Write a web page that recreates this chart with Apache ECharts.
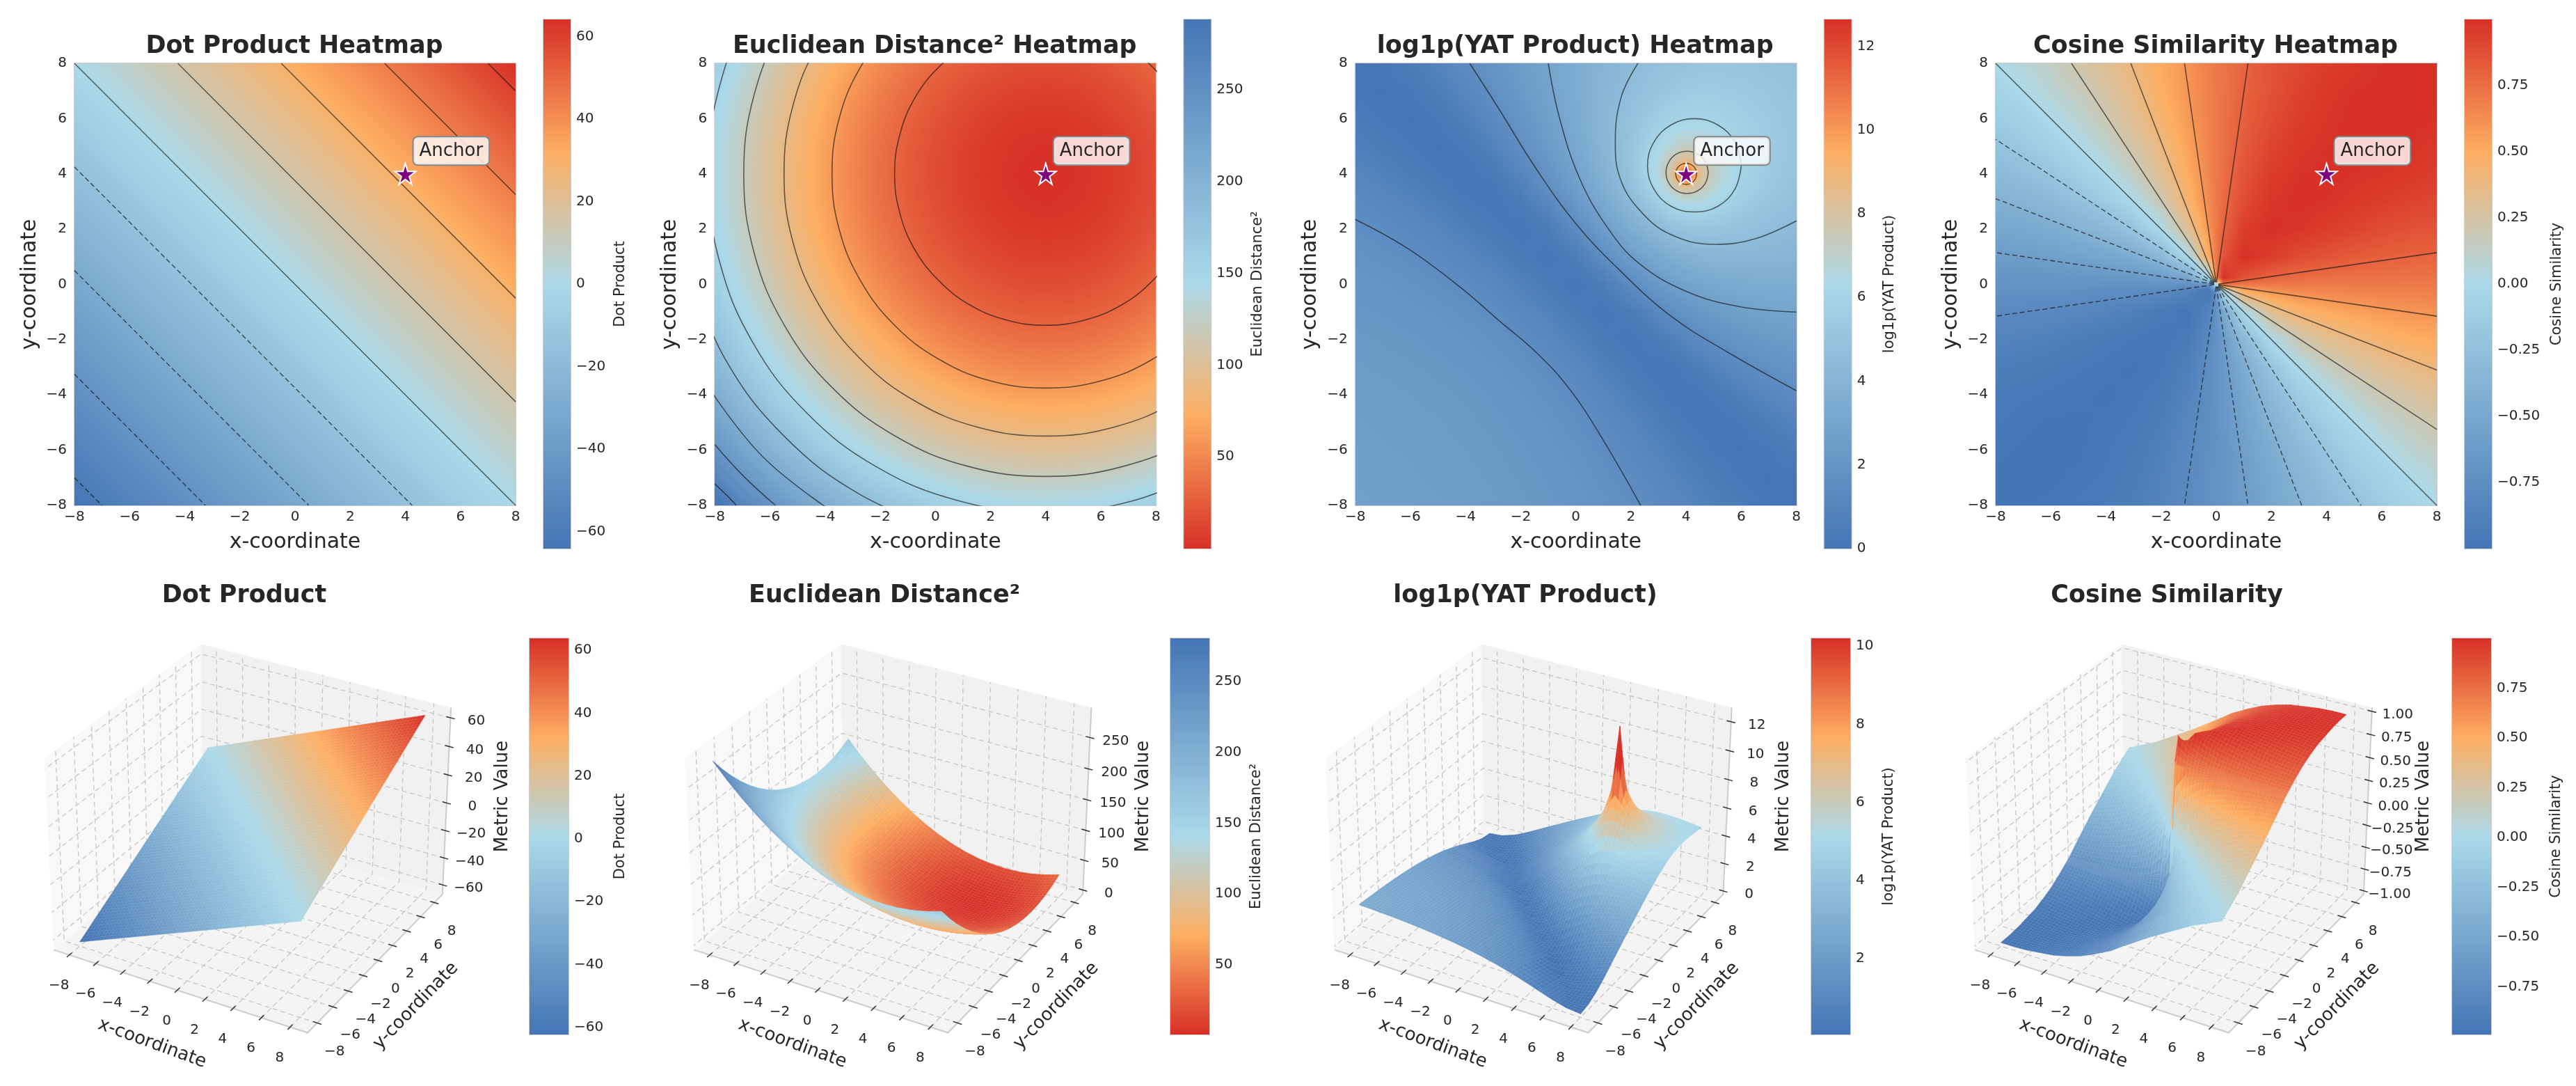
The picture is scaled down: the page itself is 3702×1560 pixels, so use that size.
<!DOCTYPE html>
<html>
<head>
<meta charset="utf-8">
<script src="https://cdn.jsdelivr.net/npm/echarts@6/dist/echarts.min.js"></script>
<style>html,body{margin:0;background:#fff}#main{width:3702px;height:1560px}</style>
</head>
<body>
<div id="main"></div>
<script>
// values, rows go from y=8 down to y=-8
const dotGridX = [-8,-6,-4,-2,0,2,4,6,8];
const dotGridY = [8,6,4,2,0,-2,-4,-6,-8];
const dotValues = [
[0,8,16,24,32,40,48,56,64],
[-8,0,8,16,24,32,40,48,56],
[-16,-8,0,8,16,24,32,40,48],
[-24,-16,-8,0,8,16,24,32,40],
[-32,-24,-16,-8,0,8,16,24,32],
[-40,-32,-24,-16,-8,0,8,16,24],
[-48,-40,-32,-24,-16,-8,0,8,16],
[-56,-48,-40,-32,-24,-16,-8,0,8],
[-64,-56,-48,-40,-32,-24,-16,-8,0]];

const eucGridX = [-8,-7,-6,-5,-4,-3,-2,-1,0,1,2,3,4,5,6,7,8];
const eucGridY = [8,7,6,5,4,3,2,1,0,-1,-2,-3,-4,-5,-6,-7,-8];
const eucValues = [
[160,137,116,97,80,65,52,41,32,25,20,17,16,17,20,25,32],
[153,130,109,90,73,58,45,34,25,18,13,10,9,10,13,18,25],
[148,125,104,85,68,53,40,29,20,13,8,5,4,5,8,13,20],
[145,122,101,82,65,50,37,26,17,10,5,2,1,2,5,10,17],
[144,121,100,81,64,49,36,25,16,9,4,1,0,1,4,9,16],
[145,122,101,82,65,50,37,26,17,10,5,2,1,2,5,10,17],
[148,125,104,85,68,53,40,29,20,13,8,5,4,5,8,13,20],
[153,130,109,90,73,58,45,34,25,18,13,10,9,10,13,18,25],
[160,137,116,97,80,65,52,41,32,25,20,17,16,17,20,25,32],
[169,146,125,106,89,74,61,50,41,34,29,26,25,26,29,34,41],
[180,157,136,117,100,85,72,61,52,45,40,37,36,37,40,45,52],
[193,170,149,130,113,98,85,74,65,58,53,50,49,50,53,58,65],
[208,185,164,145,128,113,100,89,80,73,68,65,64,65,68,73,80],
[225,202,181,162,145,130,117,106,97,90,85,82,81,82,85,90,97],
[244,221,200,181,164,149,136,125,116,109,104,101,100,101,104,109,116],
[265,242,221,202,185,170,157,146,137,130,125,122,121,122,125,130,137],
[288,265,244,225,208,193,180,169,160,153,148,145,144,145,148,153,160]];

// finer samples around the anchor spike
const yatGridX = [-8,-7,-6,-5,-4,-3,-2,-1,0,1,2,3,3.5,4,4.5,5,6,7,8];
const yatGridY = [8,7,6,5,4.5,4,3.5,3,2,1,0,-1,-2,-3,-4,-5,-6,-7,-8];
const yatValues = [
[0,.11,.44,.91,1.44,1.97,2.49,3,3.5,3.97,4.39,4.74,4.88,4.98,5.04,5.08,5.06,4.98,4.86],
[.1,0,.14,.54,1.09,1.69,2.29,2.89,3.48,4.06,4.61,5.08,5.26,5.38,5.44,5.44,5.34,5.17,4.98],
[.36,.12,0,.17,.66,1.31,2,2.69,3.39,4.12,4.86,5.56,5.83,5.99,6.03,5.96,5.67,5.34,5.06],
[.69,.42,.15,0,.22,.82,1.59,2.38,3.2,4.07,5.06,6.24,6.83,7.17,7.05,6.69,5.96,5.44,5.08],
[.86,.6,.31,.05,.06,.55,1.32,2.17,3.04,3.98,5.08,6.58,7.62,8.44,7.86,7.05,6.03,5.44,5.04],
[1.02,.78,.49,.18,0,.28,1.02,1.91,2.83,3.82,4.98,6.67,8.19,12.64,8.44,7.17,5.99,5.38,4.98],
[1.18,.96,.69,.37,.06,.08,.69,1.6,2.57,3.58,4.74,6.29,7.36,8.19,7.62,6.83,5.83,5.26,4.88],
[1.32,1.13,.89,.58,.22,0,.36,1.24,2.25,3.28,4.39,5.67,6.29,6.67,6.58,6.24,5.56,5.08,4.74],
[1.59,1.44,1.24,.99,.66,.26,0,.44,1.44,2.49,3.5,4.39,4.74,4.98,5.08,5.06,4.86,4.61,4.39],
[1.81,1.69,1.54,1.35,1.09,.74,.31,0,.49,1.52,2.49,3.28,3.58,3.82,3.98,4.07,4.12,4.06,3.97],
[2,1.91,1.79,1.63,1.44,1.16,.8,.33,0,.49,1.44,2.25,2.57,2.83,3.04,3.2,3.39,3.48,3.5],
[2.16,2.08,1.98,1.86,1.7,1.5,1.21,.82,.33,0,.44,1.24,1.6,1.91,2.17,2.38,2.69,2.89,3],
[2.29,2.22,2.14,2.04,1.91,1.74,1.52,1.21,.8,.31,0,.36,.69,1.02,1.32,1.59,2,2.29,2.49],
[2.4,2.34,2.27,2.18,2.07,1.93,1.74,1.5,1.16,.74,.26,0,.08,.28,.55,.82,1.31,1.69,1.97],
[2.49,2.44,2.38,2.3,2.2,2.07,1.91,1.7,1.44,1.09,.66,.22,.06,0,.06,.22,.66,1.09,1.44],
[2.57,2.52,2.46,2.39,2.3,2.18,2.04,1.86,1.63,1.35,.99,.58,.37,.18,.05,0,.17,.54,.91],
[2.63,2.58,2.53,2.46,2.38,2.27,2.14,1.98,1.79,1.54,1.24,.89,.69,.49,.31,.15,0,.14,.44],
[2.68,2.64,2.58,2.52,2.44,2.34,2.22,2.08,1.91,1.69,1.44,1.13,.96,.78,.6,.42,.12,0,.11],
[2.72,2.68,2.63,2.57,2.49,2.4,2.29,2.16,2,1.81,1.59,1.32,1.18,1.02,.86,.69,.36,.1,0]];

// finer samples around the origin
const cosGridX = [-8,-7,-6,-5,-4,-3,-2,-1,-.25,0,.25,1,2,3,4,5,6,7,8];
const cosGridY = [8,7,6,5,4,3,2,1,.25,0,-.25,-1,-2,-3,-4,-5,-6,-7,-8];
const cosValues = [
[0,.07,.14,.23,.32,.41,.51,.61,.69,.71,.73,.79,.86,.91,.95,.97,.99,1,1],
[-.07,0,.08,.16,.26,.37,.49,.6,.68,.71,.73,.8,.87,.93,.97,.99,1,1,1],
[-.14,-.08,0,.09,.2,.32,.45,.58,.68,.71,.74,.81,.89,.95,.98,1,1,1,.99],
[-.23,-.16,-.09,0,.11,.24,.39,.55,.67,.71,.74,.83,.92,.97,.99,1,1,.99,.97],
[-.32,-.26,-.2,-.11,0,.14,.32,.51,.66,.71,.75,.86,.95,.99,1,.99,.98,.97,.95],
[-.41,-.37,-.32,-.24,-.14,0,.2,.45,.65,.71,.76,.89,.98,1,.99,.97,.95,.93,.91],
[-.51,-.49,-.45,-.39,-.32,-.2,0,.32,.61,.71,.79,.95,1,.98,.95,.92,.89,.87,.86],
[-.61,-.6,-.58,-.55,-.51,-.45,-.32,0,.51,.71,.86,1,.95,.89,.86,.83,.81,.8,.79],
[-.69,-.68,-.68,-.67,-.66,-.65,-.61,-.51,0,.71,1,.86,.79,.76,.75,.74,.74,.73,.73],
[-.71,-.71,-.71,-.71,-.71,-.71,-.71,-.71,-.71,0,.71,.71,.71,.71,.71,.71,.71,.71,.71],
[-.73,-.73,-.74,-.74,-.75,-.76,-.79,-.86,-1,-.71,0,.51,.61,.65,.66,.67,.68,.68,.69],
[-.79,-.8,-.81,-.83,-.86,-.89,-.95,-1,-.86,-.71,-.51,0,.32,.45,.51,.55,.58,.6,.61],
[-.86,-.87,-.89,-.92,-.95,-.98,-1,-.95,-.79,-.71,-.61,-.32,0,.2,.32,.39,.45,.49,.51],
[-.91,-.93,-.95,-.97,-.99,-1,-.98,-.89,-.76,-.71,-.65,-.45,-.2,0,.14,.24,.32,.37,.41],
[-.95,-.97,-.98,-.99,-1,-.99,-.95,-.86,-.75,-.71,-.66,-.51,-.32,-.14,0,.11,.2,.26,.32],
[-.97,-.99,-1,-1,-.99,-.97,-.92,-.83,-.74,-.71,-.67,-.55,-.39,-.24,-.11,0,.09,.16,.23],
[-.99,-1,-1,-1,-.98,-.95,-.89,-.81,-.74,-.71,-.68,-.58,-.45,-.32,-.2,-.09,0,.08,.14],
[-1,-1,-1,-.99,-.97,-.93,-.87,-.8,-.73,-.71,-.68,-.6,-.49,-.37,-.26,-.16,-.08,0,.07],
[-1,-1,-.99,-.97,-.95,-.91,-.86,-.79,-.73,-.71,-.69,-.61,-.51,-.41,-.32,-.23,-.14,-.07,0]];

// contour lines, in data units
const dotContourSolid = [[[-8,8],[8,-8]],[[-4.25,8],[8,-4.25]],[[-.5,8],[8,-.5]],[[3.25,8],[8,3.25]],[[7,8],[8,7]]];
const dotContourDashed = [[[-8,4.25],[4.25,-8]],[[-8,.5],[.5,-8]],[[-8,-3.25],[-3.25,-8]],[[-8,-7],[-7,-8]]];
const eucContourSolid = [
[[9.48,4],[9.29,5.42],[8.75,6.74],[7.87,7.87],[6.74,8.75],[5.42,9.29],[4,9.48],[2.58,9.29],[1.26,8.75],[.13,7.87],[-.75,6.74],[-1.29,5.42],[-1.48,4],[-1.29,2.58],[-.75,1.26],[.13,.13],[1.26,-.75],[2.58,-1.29],[4,-1.48],[5.42,-1.29],[6.74,-.75],[7.87,.13],[8.75,1.26],[9.29,2.58],[9.48,4]],
[[1.99,11.49],[.125,10.71],[-1.48,9.48],[-2.71,7.875],[-3.49,6.01],[-3.75,4],[-3.49,1.99],[-2.71,.125],[-1.48,-1.48],[.125,-2.71],[1.99,-3.49],[4,-3.75],[6.01,-3.49],[7.875,-2.71],[9.48,-1.48],[10.71,.125]],
[[-.745,12.22],[-2.71,10.71],[-4.22,8.745],[-5.17,6.46],[-5.49,4],[-5.17,1.54],[-4.22,-.745],[-2.71,-2.71],[-.745,-4.22],[1.54,-5.17],[4,-5.49],[6.46,-5.17],[8.745,-4.22],[10.71,-2.71]],
[[-1.475,13.48],[-3.74,11.74],[-5.48,9.475],[-6.58,6.84],[-6.95,4],[-6.58,1.16],[-5.48,-1.475],[-3.74,-3.74],[-1.475,-5.48],[1.16,-6.58],[4,-6.95],[6.84,-6.58],[9.475,-5.48],[11.74,-3.74]],
[[-2.125,14.61],[-4.66,12.66],[-6.61,10.125],[-7.83,7.17],[-8.25,4],[-7.83,.83],[-6.61,-2.125],[-4.66,-4.66],[-2.125,-6.61],[.83,-7.83],[4,-8.25],[7.17,-7.83],[10.125,-6.61]],
[[-8.96,.52],[-7.62,-2.71],[-5.49,-5.49],[-2.71,-7.62],[.52,-8.96]],
[[-8.55,-3.245],[-6.25,-6.25],[-3.245,-8.55]],
[[-8,-5.8],[-6.95,-6.95],[-5.8,-8]],
[[-8,-7.22],[-7.6,-7.6],[-7.22,-8]]];
const yatContourSolid = [
[[-8,2.35],[-6.1,1.3],[-4.2,-.1],[-2.8,-1.3],[-1.45,-2.45],[-.3,-3.7],[.85,-5.4],[2.35,-8]],
[[-3.85,8],[-2.76,6.3],[-1.45,4.2],[0,2.2],[1.6,.5],[3.45,-1.15],[5.5,-2.45],[8,-3.85]],
[[-1,8],[-.6,6.05],[.13,3.85],[1.15,2.05],[2.3,.75],[4,-.25],[5.9,-.8],[8,-1]],
[[2.25,8],[1.65,6.8],[1.43,5.15],[1.6,3.85],[2.3,2.7],[3.45,1.8],[5.05,1.45],[6.5,1.65],[8,2.3]],
[[6,4.3],[5.77,5.15],[5.15,5.77],[4.3,6],[3.45,5.77],[2.83,5.15],[2.6,4.3],[2.83,3.45],[3.45,2.83],[4.3,2.62],[5.15,2.83],[5.77,3.45],[6,4.3]],
[[4.8,4.05],[4.7,4.43],[4.42,4.72],[4.03,4.82],[3.65,4.72],[3.37,4.43],[3.27,4.05],[3.37,3.67],[3.65,3.39],[4.03,3.29],[4.42,3.39],[4.7,3.67],[4.8,4.05]],
[[4.38,4],[4.33,4.19],[4.19,4.33],[4,4.38],[3.81,4.33],[3.67,4.19],[3.62,4],[3.67,3.81],[3.81,3.67],[4,3.62],[4.19,3.67],[4.33,3.81],[4.38,4]]];
const cosContourSolid = [[[-.08,.08],[-8,8]],[[-.05,.08],[-5.25,8]],[[-.03,.08],[-3.1,8]],[[-.01,.08],[-1.15,8]],[[.01,.08],[1.15,8]],
[[.08,.01],[8,1.15]],[[.08,-.01],[8,-1.15]],[[.08,-.03],[8,-3.1]],[[.08,-.05],[8,-5.25]],[[.08,-.08],[8,-8]]];
const cosContourDashed = [[[-.08,.05],[-8,5.25]],[[-.08,.03],[-8,3.1]],[[-.08,.01],[-8,1.15]],[[-.08,-.01],[-8,-1.15]],
[[-.01,-.08],[-1.15,-8]],[[.01,-.08],[1.15,-8]],[[.03,-.08],[3.1,-8]],[[.05,-.08],[5.25,-8]]];

const anchorPoint = [4,4];
const axisTicks = [-8,-6,-4,-2,0,2,4,6,8];

const titles2d = ['Dot Product Heatmap','Euclidean Distance² Heatmap','log1p(YAT Product) Heatmap','Cosine Similarity Heatmap'];
const titles3d = ['Dot Product','Euclidean Distance²','log1p(YAT Product)','Cosine Similarity'];
const barNames = ['Dot Product','Euclidean Distance²','log1p(YAT Product)','Cosine Similarity'];

const barRange2d = [[-64.1,64.1],[0,288.3],[0,12.64],[-1,1]];
const barRange3d = [[-62.3,63.8],[.8,280.4],[.06,10.2],[-.99,1]];
const barTicks2d = [[-60,-40,-20,0,20,40,60],[50,100,150,200,250],[0,2,4,6,8,10,12],[-.75,-.5,-.25,0,.25,.5,.75]];
const barTicks3d = [[-60,-40,-20,0,20,40,60],[50,100,150,200,250],[2,4,6,8,10],[-.75,-.5,-.25,0,.25,.5,.75]];
const zRange = [[-67,67],[-7.2,297],[-.24,12.96],[-1.04,1.04]];
const zTicks = [[-60,-40,-20,0,20,40,60],[0,50,100,150,200,250],[0,2,4,6,8,10,12],[-1,-.75,-.5,-.25,0,.25,.5,.75,1]];

const panels = [
  {xs:dotGridX,ys:dotGridY,vals:dotValues,solid:dotContourSolid,dashed:dotContourDashed,rev:false,digits:0},
  {xs:eucGridX,ys:eucGridY,vals:eucValues,solid:eucContourSolid,dashed:[],rev:true,digits:0},
  {xs:yatGridX,ys:yatGridY,vals:yatValues,solid:yatContourSolid,dashed:[],rev:false,digits:0},
  {xs:cosGridX,ys:cosGridY,vals:cosValues,solid:cosContourSolid,dashed:cosContourDashed,rev:false,digits:2}
];

const FONT = '"DejaVu Sans"';
const INK = '#262626';
const rampStops = [[0,[69,117,180]],[.5,[171,217,233]],[.75,[253,174,97]],[1,[215,48,39]]];

function ramp(t, rev) {
  t = Math.max(0, Math.min(1, t));
  if (rev) t = 1 - t;
  for (let k = 1; k < rampStops.length; k++) {
    if (t <= rampStops[k][0]) {
      const a = rampStops[k-1], b = rampStops[k];
      const f = (t - a[0]) / (b[0] - a[0]);
      return [0,1,2].map(c => Math.round(a[1][c] + (b[1][c] - a[1][c]) * f));
    }
  }
  return rampStops[3][1];
}
function fmt(v, digits) {
  return (digits ? v.toFixed(digits) : String(v)).replace('-', '−');
}

// one cell of the map, shaded between its four read values (display only, the arrays stay as read)
function cellCanvas(w, h, a, b, c, d, range, rev) {
  const cv = document.createElement('canvas');
  cv.width = w; cv.height = h;
  const ctx = cv.getContext('2d');
  const img = ctx.createImageData(w, h);
  let p = 0;
  for (let y = 0; y < h; y++) {
    const ty = (y + .5) / h;
    for (let x = 0; x < w; x++) {
      const tx = (x + .5) / w;
      const v = (a*(1-tx) + b*tx)*(1-ty) + (c*(1-tx) + d*tx)*ty;
      const col = ramp((v - range[0]) / (range[1] - range[0]), rev);
      img.data[p++] = col[0]; img.data[p++] = col[1]; img.data[p++] = col[2]; img.data[p++] = 255;
    }
  }
  ctx.putImageData(img, 0, 0);
  return cv;
}

// same view as a default 3d axes: elev 30, azim -60
const BOX = 9.2, HA = .595, HC = .446;
function project(pi, x, y, z) {
  const zr = zRange[pi];
  const rx = HA * x / BOX, ry = HA * y / BOX;
  const rz = HC * (2 * (z - zr[0]) / (zr[1] - zr[0]) - 1);
  const D = 10 - (.433*rx - .75*ry + .5*rz);
  const u = (.866*rx + .5*ry) / D, v = (-.25*rx + .433*ry + .866*rz) / D;
  return {p: [361.6 + 920.3*pi + 3513*u, 1191 - 3513*v], depth: D};
}

function buildQuads(pi) {
  const P = panels[pi], out = [], range = barRange3d[pi];
  for (let j = 0; j < P.ys.length - 1; j++) {
    for (let i = 0; i < P.xs.length - 1; i++) {
      const n = Math.max(1, Math.round((P.xs[i+1] - P.xs[i]) / .25));
      const a = P.vals[j][i], b = P.vals[j][i+1], c = P.vals[j+1][i], d = P.vals[j+1][i+1];
      const val = (s, t) => (a*(1-s) + b*s)*(1-t) + (c*(1-s) + d*s)*t;
      const pos = (s, t) => project(pi, P.xs[i] + (P.xs[i+1]-P.xs[i])*s, P.ys[j] + (P.ys[j+1]-P.ys[j])*t, val(s, t));
      for (let m = 0; m < n; m++) for (let k = 0; k < n; k++) {
        const q = [pos(k/n, m/n), pos((k+1)/n, m/n), pos((k+1)/n, (m+1)/n), pos(k/n, (m+1)/n)];
        const mean = (val(k/n,m/n) + val((k+1)/n,m/n) + val((k+1)/n,(m+1)/n) + val(k/n,(m+1)/n)) / 4;
        const col = ramp((mean - range[0]) / (range[1] - range[0]), P.rev);
        // mesh line is the face colour a bit lighter, so squeezed faces stay their colour
        const edge = col.map(c => Math.round(c + (255 - c) * .1));
        out.push({pts: q.map(o => o.p), depth: (q[0].depth+q[1].depth+q[2].depth+q[3].depth)/4,
          fill: 'rgb(' + col.join(',') + ')', edge: 'rgb(' + edge.join(',') + ')'});
      }
    }
  }
  out.sort((p, q) => q.depth - p.depth);
  return out;
}

function backdrop(pi) {
  const zr = zRange[pi], ox = 361.6 + 920.3*pi, kids = [];
  const pr = (x, y, z) => project(pi, x, y, z).p;
  const poly = (pts, fill) => kids.push({type:'polygon', shape:{points:pts}, style:{fill:fill}});
  const line = (pts, c, w, dash) => kids.push({type:'polyline', shape:{points:pts},
    style:{stroke:c, lineWidth:w, lineDash:dash || null, fill:null}});
  const text = (s, x, y, size, rot) => kids.push({type:'text', x:x, y:y, rotation:rot || 0,
    style:{text:s, x:0, y:0, fill:INK, font:size + 'px ' + FONT, textAlign:'center', textVerticalAlign:'middle'}});
  const lo = zr[0], hi = zr[1];
  poly([pr(-BOX,-BOX,lo),pr(BOX,-BOX,lo),pr(BOX,BOX,lo),pr(-BOX,BOX,lo)], '#f4f4f4');
  poly([pr(-BOX,-BOX,lo),pr(-BOX,BOX,lo),pr(-BOX,BOX,hi),pr(-BOX,-BOX,hi)], '#f8f8f8');
  poly([pr(-BOX,BOX,lo),pr(BOX,BOX,lo),pr(BOX,BOX,hi),pr(-BOX,BOX,hi)], '#f1f1f1');
  const GRID = '#c9c9c9', DASH = [7,5];
  axisTicks.forEach(t => {
    line([pr(t,-BOX,lo),pr(t,BOX,lo),pr(t,BOX,hi)], GRID, 1.4, DASH);
    line([pr(BOX,t,lo),pr(-BOX,t,lo),pr(-BOX,t,hi)], GRID, 1.4, DASH);
  });
  zTicks[pi].forEach(t => line([pr(BOX,BOX,t),pr(-BOX,BOX,t),pr(-BOX,-BOX,t)], GRID, 1.4, DASH));
  line([pr(-BOX,-BOX,lo),pr(BOX,-BOX,lo),pr(BOX,BOX,lo),pr(BOX,BOX,hi)], '#cccccc', 2);
  axisTicks.forEach(t => {
    const a = pr(t,-BOX,lo), c = pr(BOX,t,lo);
    line([pr(t,-BOX-.3,lo), pr(t,-BOX+.3,lo)], '#333', 1.5);
    line([pr(BOX-.3,t,lo), pr(BOX+.3,t,lo)], '#333', 1.5);
    text(fmt(t,0), a[0]-15, a[1]+44, 20);
    text(fmt(t,0), c[0]+25, c[1]+41, 20);
  });
  zTicks[pi].forEach(t => {
    const a = pr(BOX,BOX,t);
    line([pr(BOX-.3,BOX,t), pr(BOX+.3,BOX,t)], '#333', 1.5);
    text(fmt(t,panels[pi].digits), a[0]+37, a[1]+5, 20);
  });
  text('x-coordinate', ox-143, 1499, 26, -.35);
  text('y-coordinate', ox+236, 1445, 26, .8);
  text('Metric Value', ox+361, 1144, 26, Math.PI/2);
  return {type:'group', children:kids};
}

const grid = [], xAxis = [], yAxis = [], series = [], title = [];
const heatLeft = [107,1027.3,1947.7,2868];
const barLeft2d = [781,1701.3,2621.7,3542], barGap2d = [61,57,44,83];
const barLeft3d = [761,1682,2603,3524], barGap3d = [64,57,45,83];
const title3dX = [351,1271,2192,3114];
const STAR = 'path://M50 0 L61 35 L98 35 L68 57 L79 91 L50 70 L21 91 L32 57 L2 35 L39 35 Z';

function addBar(pi, left, top, w, h, range, ticks, gap) {
  const idx = grid.length, P = panels[pi];
  grid.push({left:left, top:top, width:w, height:h, show:true, borderColor:'#cccccc', borderWidth:2, backgroundColor:'transparent'});
  xAxis.push({type:'value', gridIndex:idx, min:0, max:1, show:false});
  yAxis.push({type:'value', gridIndex:idx, position:'right', min:range[0], max:range[1], scale:true,
    axisLine:{show:false}, axisTick:{show:false}, splitLine:{show:false},
    axisLabel:{customValues:ticks, margin:8, fontSize:20, color:INK, fontFamily:FONT, formatter:v => fmt(v,P.digits)},
    name:barNames[pi], nameLocation:'middle', nameGap:gap, nameRotate:90,
    nameTextStyle:{fontSize:21, color:INK, fontFamily:FONT}});
  series.push({type:'custom', xAxisIndex:idx, yAxisIndex:idx, silent:true, data:[[0,range[0]]], clip:false, z:2,
    renderItem:(params, api) => {
      const a = api.coord([0,range[1]]), b = api.coord([1,range[0]]);
      return {type:'rect', shape:{x:a[0], y:a[1], width:b[0]-a[0], height:b[1]-a[1]}, style:{
        fill:new echarts.graphic.LinearGradient(0,1,0,0, rampStops.map(s => ({
          offset:P.rev ? 1-s[0] : s[0], color:'rgb(' + s[1].join(',') + ')'})).sort((x,y) => x.offset-y.offset))}};
    }});
}

panels.forEach((P, pi) => {
  const idx = grid.length;
  grid.push({left:heatLeft[pi], top:91, width:634, height:635, show:true, borderColor:'#cccccc', borderWidth:2, backgroundColor:'transparent'});
  xAxis.push({type:'value', gridIndex:idx, min:-8, max:8, interval:2, splitLine:{show:false}, axisLine:{show:false}, axisTick:{show:false},
    axisLabel:{margin:7, fontSize:20, color:INK, fontFamily:FONT, formatter:v => fmt(v,0)},
    name:'x-coordinate', nameLocation:'middle', nameGap:38, nameTextStyle:{fontSize:30, color:INK, fontFamily:FONT}});
  yAxis.push({type:'value', gridIndex:idx, min:-8, max:8, interval:2, splitLine:{show:false}, axisLine:{show:false}, axisTick:{show:false},
    axisLabel:{margin:11, fontSize:20, color:INK, fontFamily:FONT, formatter:v => fmt(v,0)},
    name:'y-coordinate', nameLocation:'middle', nameGap:49, nameTextStyle:{fontSize:30, color:INK, fontFamily:FONT}});

  const cells = [];
  for (let j = 0; j < P.ys.length-1; j++) for (let i = 0; i < P.xs.length-1; i++) cells.push([P.xs[i], P.ys[j], i, j]);
  const range = barRange2d[pi];
  series.push({type:'custom', xAxisIndex:idx, yAxisIndex:idx, silent:true, z:2, data:cells, progressive:0, clip:false,
    renderItem:(params, api) => {
      const i = api.value(2), j = api.value(3);
      const a = api.coord([P.xs[i],P.ys[j]]), b = api.coord([P.xs[i+1],P.ys[j+1]]);
      const x = Math.round(a[0]), y = Math.round(a[1]), w = Math.round(b[0])-x, h = Math.round(b[1])-y;
      return {type:'image', style:{image:cellCanvas(w,h,P.vals[j][i],P.vals[j][i+1],P.vals[j+1][i],P.vals[j+1][i+1],range,P.rev), x:x, y:y, width:w, height:h}};
    }});
  P.solid.concat(P.dashed).forEach((pts, n) => {
    series.push({type:'line', xAxisIndex:idx, yAxisIndex:idx, data:pts, showSymbol:false, silent:true, z:3, clip:true,
      smooth:pts.length > 2 ? .4 : false,
      lineStyle:{color:'rgba(20,20,20,.62)', width:1.6, type:n < P.solid.length ? 'solid' : [7,4]}});
  });
  series.push({type:'scatter', xAxisIndex:idx, yAxisIndex:idx, data:[anchorPoint], symbol:STAR, symbolSize:30, silent:true, z:5,
    itemStyle:{color:'#800080', borderColor:'#fff', borderWidth:2, opacity:1},
    label:{show:true, formatter:'Anchor', position:'right', distance:0, offset:[-4,-33], fontSize:26, fontFamily:FONT, color:INK,
      backgroundColor:'rgba(255,255,255,.8)', borderColor:'#888', borderWidth:2, borderRadius:6, padding:[7,8,6,8]}});
  title.push({text:titles2d[pi], left:heatLeft[pi]+316, top:49, padding:0, textAlign:'center',
    textStyle:{fontSize:35, fontWeight:'bold', color:INK, fontFamily:FONT}});
  addBar(pi, barLeft2d[pi], 28, 39, 760, barRange2d[pi], barTicks2d[pi], barGap2d[pi]);

  series.push({type:'custom', coordinateSystem:'none', silent:true, z:1, data:[[0]], renderItem:() => backdrop(pi)});
  const quads = buildQuads(pi);
  series.push({type:'custom', coordinateSystem:'none', silent:true, z:2, progressive:0, data:quads.map((q,k) => [k]),
    renderItem:(params) => {
      const q = quads[params.dataIndex];
      return {type:'polygon', shape:{points:q.pts}, style:{fill:q.fill, stroke:q.edge, lineWidth:.6}};
    }});
  title.push({text:titles3d[pi], left:title3dX[pi], top:838, padding:0, textAlign:'center',
    textStyle:{fontSize:35, fontWeight:'bold', color:INK, fontFamily:FONT}});
  addBar(pi, barLeft3d[pi], 917, 56, 569, barRange3d[pi], barTicks3d[pi], barGap3d[pi]);
});

const chart = echarts.init(document.getElementById('main'), null, {renderer:'canvas'});
chart.setOption({
  backgroundColor:'#fff',
  animation:false,
  textStyle:{fontFamily:FONT},
  title:title, grid:grid, xAxis:xAxis, yAxis:yAxis, series:series
});
</script>
</body>
</html>
